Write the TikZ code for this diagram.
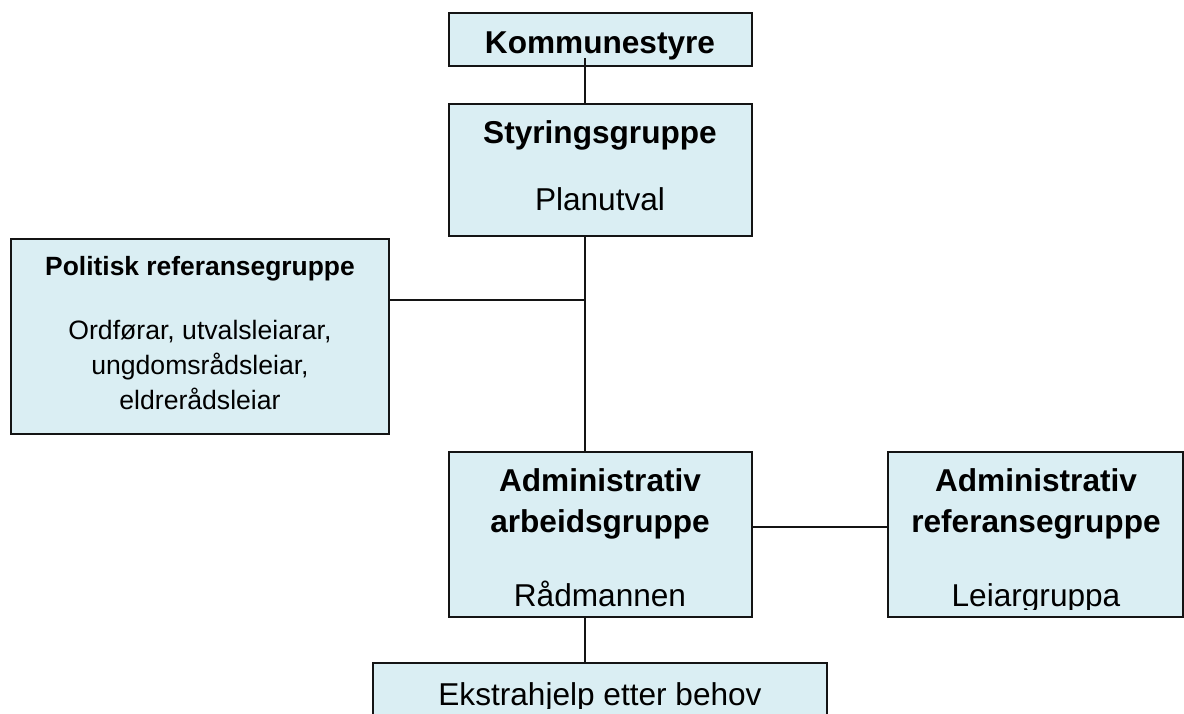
\documentclass[tikz,border=0pt]{standalone}
\usepackage{fontspec}
\setmainfont{Liberation Sans}
\definecolor{boxfill}{HTML}{DAEEF3}
\definecolor{edge}{HTML}{141414}
\begin{document}
\begin{tikzpicture}[x=1pt,y=-1pt,
  box/.style={draw=edge, line width=1.8pt, fill=boxfill, inner sep=0pt, outer sep=0pt},
  big/.style={font=\fontsize{31.6}{38}\selectfont, anchor=base, inner sep=0pt},
  bigb/.style={font=\fontsize{31.6}{38}\selectfont\bfseries, anchor=base, inner sep=0pt},
  mid/.style={font=\fontsize{26.6}{32}\selectfont, anchor=base, inner sep=0pt},
  midb/.style={font=\fontsize{26.4}{32}\selectfont\bfseries, anchor=base, inner sep=0pt},
  link/.style={draw=edge, line width=1.3pt}]
\useasboundingbox (0,0) rectangle (1184,713);
\clip (0,0) rectangle (1184,713);

% boxes
\node[box, minimum width=303pt, minimum height=53pt]  (kom) at (600.5,39.5) {};
\node[box, minimum width=303pt, minimum height=132pt] (sty) at (600.5,170) {};
\node[box, minimum width=378pt, minimum height=195pt] (pol) at (200,336.5) {};
\node[box, minimum width=303pt, minimum height=165pt] (arb) at (600.5,534.5) {};
\node[box, minimum width=295pt, minimum height=165pt] (ref) at (1035.5,534.5) {};
\node[box, minimum width=454pt, minimum height=80pt]  (eks) at (600,703) {};

% texts
\begin{scope}
  \clip (449,13) rectangle (752,62);
  \node[bigb] (tkom) at (600,53) {Kommunestyre};
\end{scope}
\node[bigb] (tsty1) at (600,143) {Styringsgruppe};
\node[big]  (tsty2) at (600,210) {Planutval};

\node[midb] (tpol1) at (200,275) {Politisk referansegruppe};
\node[mid]  (tpol2) at (200,339) {Ordførar, utvalsleiarar,};
\node[mid]  (tpol3) at (200,374) {ungdomsrådsleiar,};
\node[mid]  (tpol4) at (200,409) {eldrerådsleiar};

\begin{scope}
  \clip (449,452) rectangle (1184,609);
  \node[bigb] (tarb1) at (600,491) {Administrativ};
  \node[bigb] (tarb2) at (600,532) {arbeidsgruppe};
  \node[big]  (tarb3) at (600,606) {Rådmannen};
  \node[bigb] (tref1) at (1036,491) {Administrativ};
  \node[bigb] (tref2) at (1036,532) {referansegruppe};
  \node[big]  (tref3) at (1036,606) {Leiargruppa};
\end{scope}

\begin{scope}
  \clip (373,663) rectangle (827,708);
  \node[big] (teks) at (600,705) {Ekstrahjelp etter behov};
\end{scope}

% connectors
\coordinate (spine) at (585,0);
\coordinate (polj) at (585,300);
\coordinate (ay) at (0,527);
\draw[link] ([yshift=8pt]kom.south -| spine) -- (sty.north -| spine);
\draw[link] (sty.south -| spine) -- (arb.north -| spine);
\draw[link] (pol.east |- polj) -- (polj);
\draw[link] (arb.east |- ay) -- (ref.west |- ay);
\draw[link] (arb.south -| spine) -- (eks.north -| spine);
\end{tikzpicture}
\end{document}
